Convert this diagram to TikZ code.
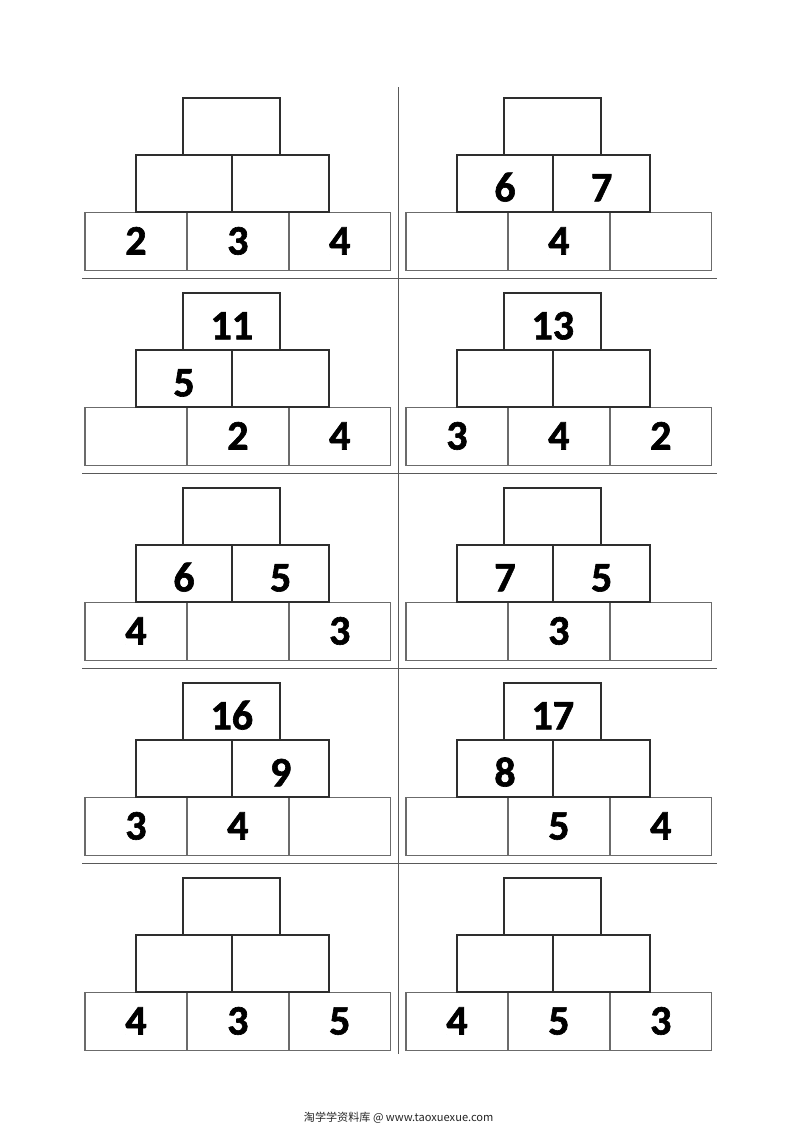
\documentclass[tikz,border=0pt]{standalone}
\usepackage{fontspec}
\setmainfont{Carlito}
\newfontfamily\digitfont[BoldFeatures={FakeBold=1.5}]{Carlito}
\newfontfamily\cjkfont{Noto Sans CJK SC}
\begin{document}
\begin{tikzpicture}[x=1pt,y=-1pt,
  digits/.style={font=\digitfont\fontsize{42}{42}\selectfont\bfseries, text=black, inner sep=0pt, text depth=0pt},
  upbox/.style={digits, draw=black!82, line width=1.9pt, rectangle, text height=35.5pt},
  topbox/.style={upbox, minimum width=97pt, minimum height=56.7pt},
  midbox/.style={upbox, minimum width=96.6pt, minimum height=57.3pt},
  botbox/.style={digits, draw=black!58, line width=1.5pt, rectangle, minimum width=101.9pt, minimum height=58pt, text height=26.5pt},
  sepline/.style={draw=black!65, line width=1.4pt},
  footer/.style={font=\cjkfont\fontsize{11.1}{11.1}\selectfont, text=black!85, inner sep=0pt}]
\useasboundingbox (0,0) rectangle (800,1132);
\fill[white] (0,0) rectangle (800,1132);
% pyramid macro: name, x shift, y shift, top, mid1, mid2, bot1, bot2, bot3
\newcommand\mypyr[9]{%
  \node[botbox] (#1b1) at ({#2+135.95},{#3+241.3}) {#7};
  \node[botbox] (#1b2) at ({#2+237.85},{#3+241.3}) {#8};
  \node[botbox] (#1b3) at ({#2+339.75},{#3+241.3}) {#9};
  \node[midbox] (#1m1) at ({#2+184.0},{#3+183.65}) {#5};
  \node[midbox] (#1m2) at ({#2+280.65},{#3+183.65}) {#6};
  \node[topbox] (#1t) at ({#2+231.8},{#3+126.65}) {#4};
}
\mypyr{La}{0}{0}{}{}{}{2}{3}{4}
\mypyr{Ra}{321}{0}{}{6}{7}{}{4}{}
\mypyr{Lb}{0}{195}{11}{5}{}{}{2}{4}
\mypyr{Rb}{321}{195}{13}{}{}{3}{4}{2}
\mypyr{Lc}{0}{390}{}{6}{5}{4}{}{3}
\mypyr{Rc}{321}{390}{}{7}{5}{}{3}{}
\mypyr{Ld}{0}{585}{16}{}{9}{3}{4}{}
\mypyr{Rd}{321}{585}{17}{8}{}{}{5}{4}
\mypyr{Le}{0}{780}{}{}{}{4}{3}{5}
\mypyr{Re}{321}{780}{}{}{}{4}{5}{3}
% separators
\coordinate (vtop) at (398.3,87);
\coordinate (vbot) at (398.3,1054);
\draw[sepline] (vtop) -- (vbot);
\foreach \k in {0,1,2,3}{
  \coordinate (sl\k) at (82,{278.5+195*\k});
  \coordinate (sr\k) at (717,{278.5+195*\k});
  \draw[sepline] (sl\k) -- (sr\k);
}
\node[footer] (foot) at (398.7,1118) {淘学学资料库 @ www.taoxuexue.com};
\end{tikzpicture}
\end{document}
